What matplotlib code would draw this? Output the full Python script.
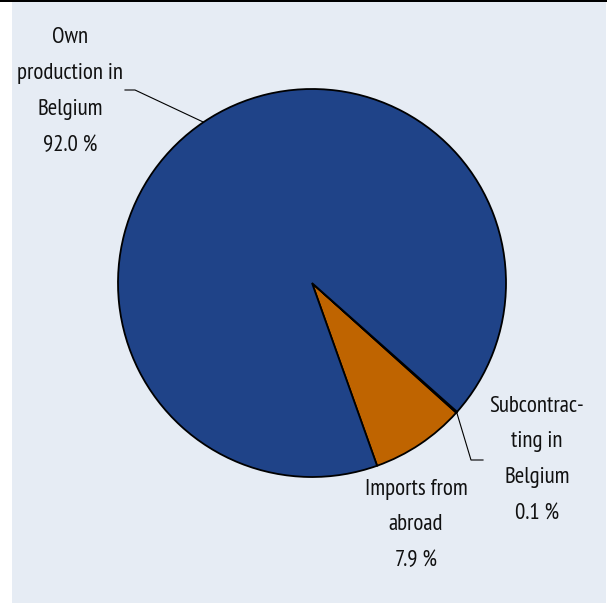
import numpy as np
import matplotlib
matplotlib.use("Agg")
import matplotlib.pyplot as plt
from matplotlib.patches import Rectangle

categories = ["Imports from\nabroad", "Subcontrac-\nting in\nBelgium", "Own\nproduction in\nBelgium"]
values = [7.9, 0.1, 92.0]
value_labels = ["7.9 %", "0.1 %", "92.0 %"]
colors = ["#bf6400", "#1f4388", "#1f4388"]

W, H = 607, 603
fig = plt.figure(figsize=(W / 100, H / 100), dpi=100)
fig.patch.set_facecolor("white")
fig.patches.append(Rectangle((12 / W, 0), (606 - 12) / W, (H - 2) / H,
                             transform=fig.transFigure, facecolor="#e6ecf4",
                             edgecolor="none", zorder=-2))
fig.patches.append(Rectangle((0, (H - 2) / H), 1, 2 / H, transform=fig.transFigure,
                             facecolor="black", edgecolor="none", zorder=-2))

ax = fig.add_axes([0, 0, 1, 1])
ax.patch.set_alpha(0)

cx, cy, r = 312, H - 283, 194
start = -70.4
wedges, _ = ax.pie(values, colors=colors, startangle=start, counterclock=True,
                   center=(cx, cy), radius=r, frame=True,
                   wedgeprops=dict(edgecolor="black", linewidth=1.3))
ax.set_xlim(0, W)
ax.set_ylim(0, H)
ax.set_aspect("equal")
ax.axis("off")

family = ["PT Sans Narrow", "DejaVu Sans"]
fs = 16.5
tcolor = "#111111"

def mid(w):
    a = np.deg2rad((w.theta1 + w.theta2) / 2)
    return cx + r * np.cos(a), cy + r * np.sin(a)

def label(i, x, y0, step):
    lines = categories[i].split("\n") + [value_labels[i]]
    for k, line in enumerate(lines):
        ax.text(x, H - (y0 + k * step), line, ha="center", va="baseline",
                fontsize=fs, family=family, color=tcolor)

# Own production label and leader
px, py = mid(wedges[2])
ax.plot([125, 135, px], [H - 90, H - 90, py], color="black", lw=0.8)
label(2, 70, 43, 36)

# Subcontracting label and leader
px, py = mid(wedges[1])
ax.plot([px, 471, 483], [py, H - 460, H - 460], color="black", lw=0.8)
label(1, 537, 412, 35.5)

# Imports label
label(0, 416, 495, 35.5)

fig.savefig("out.png", dpi=100)
